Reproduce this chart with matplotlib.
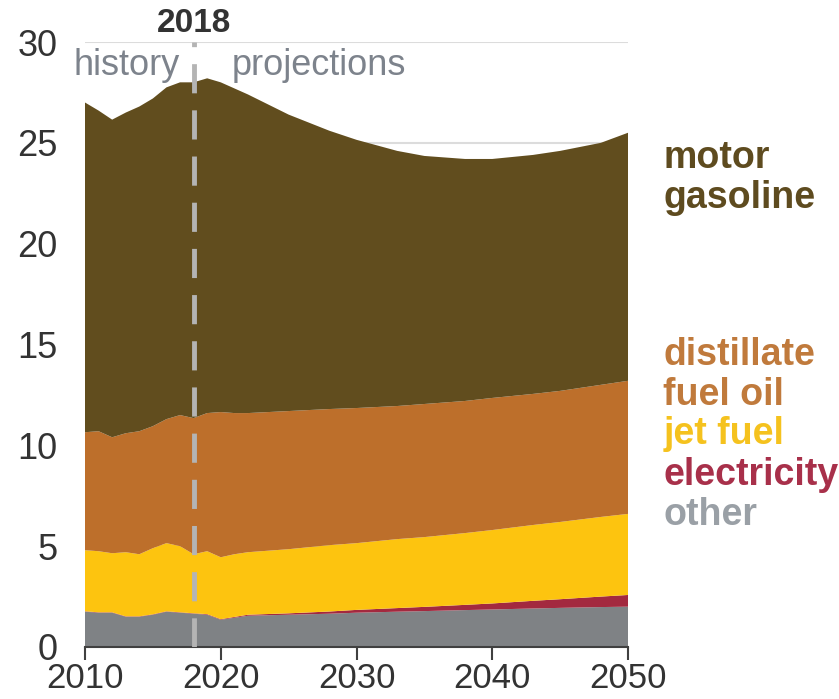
import numpy as np
import matplotlib
matplotlib.use("Agg")
from matplotlib import pyplot as plt

# values (quadrillion Btu)
years = [2010, 2011, 2012, 2013, 2014, 2015, 2016, 2017, 2018, 2019, 2020, 2021, 2022,
         2025, 2028, 2030, 2033, 2035, 2038, 2040, 2043, 2045, 2048, 2050]
other = [1.75, 1.70, 1.70, 1.50, 1.50, 1.60, 1.75, 1.70, 1.65, 1.60, 1.35, 1.45, 1.55,
         1.60, 1.65, 1.70, 1.75, 1.78, 1.83, 1.86, 1.91, 1.94, 1.98, 2.00]
electricity = [0.02, 0.02, 0.02, 0.02, 0.02, 0.02, 0.02, 0.02, 0.02, 0.03, 0.03, 0.04, 0.05,
               0.07, 0.11, 0.14, 0.18, 0.21, 0.26, 0.30, 0.38, 0.43, 0.52, 0.58]
jet_fuel = [3.03, 3.03, 2.93, 3.18, 3.08, 3.28, 3.38, 3.28, 2.93, 3.12, 3.07, 3.11, 3.10,
            3.18, 3.29, 3.31, 3.42, 3.46, 3.56, 3.64, 3.76, 3.83, 3.95, 4.02]
distillate = [5.85, 5.95, 5.75, 5.90, 6.10, 6.05, 6.15, 6.50, 6.75, 6.85, 7.20, 7.00, 6.90,
              6.85, 6.75, 6.70, 6.60, 6.60, 6.55, 6.55, 6.50, 6.50, 6.55, 6.60]
gasoline = [16.35, 15.90, 15.75, 15.90, 16.10, 16.25, 16.45, 16.50, 16.65, 16.60, 16.35, 16.10, 15.80,
            14.70, 13.80, 13.30, 12.65, 12.30, 12.00, 11.85, 11.85, 11.90, 12.00, 12.30]

series = [other, electricity, jet_fuel, distillate, gasoline]
colors = ['#7f8285', '#a3293f', '#fdc40f', '#bd6f2b', '#614d1e']
labels = [('motor\ngasoline', '#5e4b1f', 23.25),
          ('distillate\nfuel oil', '#c07a3c', 13.5),
          ('jet fuel', '#f5c21e', 10.55),
          ('electricity', '#a8304a', 8.55),
          ('other', '#9aa0a6', 6.55)]

plt.rcParams['font.family'] = ['Liberation Sans', 'DejaVu Sans']

fig = plt.figure(figsize=(8.39, 6.99), dpi=100)
ax = fig.add_axes([85 / 839, 1 - 647 / 699, (628 - 85) / 839, (647 - 42) / 699])

ax.stackplot(years, *series, colors=colors, linewidth=0, zorder=2)

ax.set_xlim(2010, 2050)
ax.set_ylim(0, 30)
ax.set_xticks([2010, 2020, 2030, 2040, 2050])
ax.set_yticks([0, 5, 10, 15, 20, 25, 30])
ax.yaxis.grid(True, color='#dcdcdc', linewidth=1.5, zorder=0)
ax.set_axisbelow(True)
for s in ['top', 'right', 'left']:
    ax.spines[s].set_visible(False)
ax.spines['bottom'].set_color('#404040')
ax.spines['bottom'].set_linewidth(1.5)
ax.spines['bottom'].set_zorder(3)
ax.tick_params(axis='x', length=9, width=1.5, color='#404040', labelsize=25,
               labelcolor='#333333', pad=2)
ax.tick_params(axis='y', length=0, labelsize=26, labelcolor='#333333', pad=20)

# history / projections divider
ax.axvline(2018, color='#b4b4b4', linewidth=3.5, dashes=(6, 3.5), zorder=4)
ax.text(2018, 30.15, '2018', ha='center', va='bottom', fontsize=24,
        fontweight='bold', color='#333333')
ax.text(2017.0, 28.85, 'history', ha='right', va='center', fontsize=26, color='#7d838c')
ax.text(2020.8, 28.85, 'projections', ha='left', va='center', fontsize=26, color='#7d838c')

# series labels on the right
for text, c, y in labels:
    ax.text(1.065, y / 30, text, transform=ax.transAxes, ha='left', va='center',
            fontsize=27, fontweight='bold', color=c, linespacing=1.15)

fig.savefig('out.png', dpi=100)
